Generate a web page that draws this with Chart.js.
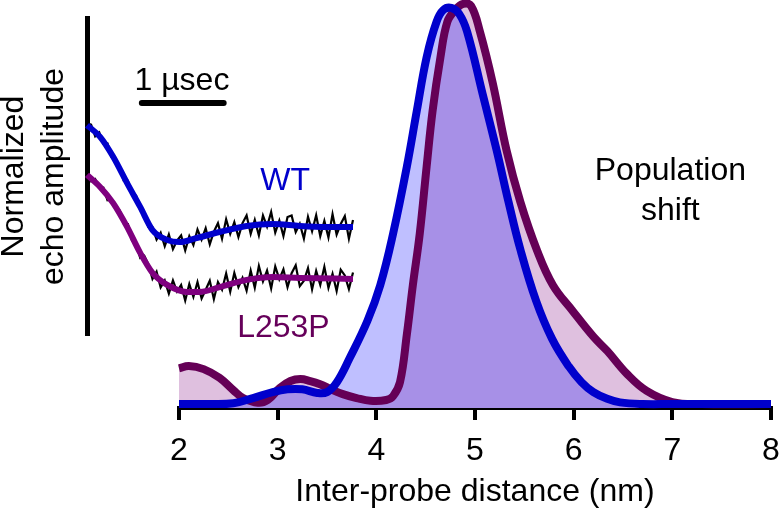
<!DOCTYPE html>
<html>
<head>
<meta charset="utf-8">
<script src="https://cdn.jsdelivr.net/npm/chart.js@4.4.1/dist/chart.umd.min.js"></script>
<style>
  html, body { margin: 0; padding: 0; background: #fff; }
  #wrap { position: relative; width: 780px; height: 509px; }
  #dist, #echo { position: absolute; left: 0; top: 0; }
</style>
</head>
<body>
<div id="wrap">
  <canvas id="dist" width="780" height="509"></canvas>
  <canvas id="echo" width="370" height="350"></canvas>
</div>
<script>
// distance distributions (nm, normalized probability)
const wtDistance = [2.0, 2.3, 2.55, 2.75, 2.95, 3.1, 3.25, 3.4, 3.5, 3.6, 3.73, 3.91, 4.04, 4.17, 4.31, 4.41, 4.51, 4.61, 4.68, 4.76, 4.84, 4.92, 5.08, 5.22, 5.34, 5.46, 5.62, 5.78, 5.95, 6.08, 6.2, 6.34, 6.47, 6.7, 7.0, 8.0];
const wtProb = [0, 0, 0.002, 0.015, 0.03, 0.037, 0.037, 0.028, 0.03, 0.055, 0.116, 0.21, 0.30, 0.43, 0.60, 0.74, 0.876, 0.965, 0.995, 1.0, 0.985, 0.94, 0.78, 0.64, 0.51, 0.39, 0.26, 0.165, 0.095, 0.055, 0.03, 0.013, 0.004, 0, 0, 0];

const l253pDistance = [2.0, 2.1, 2.25, 2.41, 2.55, 2.65, 2.8, 2.9, 3.02, 3.13, 3.23, 3.33, 3.43, 3.55, 3.66, 3.8, 3.94, 4.1, 4.17, 4.24, 4.31, 4.37, 4.44, 4.51, 4.57, 4.65, 4.72, 4.8, 4.88, 4.96, 5.05, 5.18, 5.32, 5.46, 5.63, 5.79, 5.99, 6.2, 6.34, 6.54, 6.74, 7.0, 7.3, 8.0];
const l253pProb = [0.09, 0.096, 0.088, 0.066, 0.035, 0.015, 0.003, 0.01, 0.04, 0.058, 0.063, 0.058, 0.05, 0.036, 0.025, 0.015, 0.008, 0.01, 0.02, 0.055, 0.177, 0.30, 0.43, 0.60, 0.74, 0.876, 0.965, 0.995, 1.01, 1.005, 0.94, 0.81, 0.64, 0.51, 0.387, 0.30, 0.235, 0.17, 0.134, 0.076, 0.033, 0.005, 0, 0];

const distTicks = [2, 3, 4, 5, 6, 7, 8];

// inset: echo traces (usec, normalized amplitude)
const echoTime = [0, 0.05, 0.1, 0.15, 0.2, 0.25, 0.3, 0.35, 0.4, 0.45, 0.5, 0.55, 0.6, 0.65, 0.7, 0.75, 0.8, 0.85, 0.9, 0.95, 1.0, 1.05, 1.1, 1.15, 1.2, 1.25, 1.3, 1.35, 1.4, 1.45, 1.5, 1.55, 1.6, 1.65, 1.7, 1.75, 1.8, 1.85, 1.9, 1.95, 2.0, 2.05, 2.1, 2.15, 2.2, 2.25, 2.3, 2.35, 2.4, 2.45, 2.5, 2.55, 2.6, 2.65, 2.7, 2.75, 2.8, 2.85, 2.9, 2.95, 3.0, 3.05, 3.1, 3.15, 3.2, 3.25];
const wtEcho = [0.668, 0.664, 0.627, 0.639, 0.603, 0.604, 0.561, 0.552, 0.528, 0.486, 0.486, 0.444, 0.440, 0.394, 0.382, 0.341, 0.340, 0.301, 0.323, 0.280, 0.317, 0.271, 0.298, 0.314, 0.267, 0.312, 0.284, 0.333, 0.301, 0.337, 0.286, 0.326, 0.353, 0.304, 0.365, 0.319, 0.356, 0.309, 0.353, 0.377, 0.319, 0.363, 0.314, 0.377, 0.342, 0.388, 0.323, 0.361, 0.312, 0.372, 0.377, 0.325, 0.351, 0.304, 0.373, 0.327, 0.378, 0.312, 0.360, 0.308, 0.381, 0.317, 0.350, 0.375, 0.304, 0.363];
const l253pEcho = [0.514, 0.485, 0.492, 0.464, 0.465, 0.425, 0.428, 0.401, 0.393, 0.351, 0.350, 0.298, 0.289, 0.243, 0.250, 0.223, 0.177, 0.200, 0.150, 0.172, 0.131, 0.172, 0.137, 0.158, 0.109, 0.161, 0.120, 0.167, 0.115, 0.143, 0.171, 0.113, 0.167, 0.143, 0.194, 0.137, 0.196, 0.151, 0.180, 0.140, 0.203, 0.149, 0.218, 0.169, 0.203, 0.147, 0.216, 0.176, 0.207, 0.151, 0.195, 0.220, 0.154, 0.171, 0.211, 0.144, 0.202, 0.158, 0.215, 0.149, 0.193, 0.139, 0.206, 0.188, 0.145, 0.197];

const wtFitTime = [0, 0.16, 0.32, 0.49, 0.65, 0.80, 0.98, 1.13, 1.34, 1.62, 1.95, 2.27, 2.60, 2.93, 3.25];
const wtFitAmp = [0.662, 0.625, 0.562, 0.479, 0.404, 0.331, 0.300, 0.293, 0.306, 0.325, 0.344, 0.350, 0.344, 0.341, 0.341];
const l253pFitTime = [0, 0.16, 0.32, 0.49, 0.65, 0.80, 0.98, 1.22, 1.38, 1.62, 1.95, 2.27, 2.60, 3.25];
const l253pFitAmp = [0.505, 0.467, 0.416, 0.341, 0.259, 0.196, 0.158, 0.136, 0.136, 0.151, 0.174, 0.183, 0.180, 0.177];

// 1 usec scale bar
const scaleBarTime = [0.67, 1.67];
const scaleBarAmp = [0.732, 0.732];

const FONT = "'Liberation Sans', Arial, Helvetica, sans-serif";
Chart.defaults.font.family = FONT;

function pts(xs, ys) {
  return xs.map((x, i) => ({ x: x, y: ys[i] }));
}

// free text placed in data coordinates
const textLabels = {
  id: 'textLabels',
  afterDatasetsDraw(chart, args, opts) {
    const ctx = chart.ctx;
    const xs = chart.scales.x, ys = chart.scales.y;
    ctx.save();
    ctx.font = '32px ' + FONT;
    ctx.textAlign = 'center';
    ctx.textBaseline = 'alphabetic';
    (opts.items || []).forEach(it => {
      ctx.fillStyle = it.color;
      ctx.fillText(it.text, xs.getPixelForValue(it.x), ys.getPixelForValue(it.y));
    });
    ctx.restore();
  }
};

const distLine = {
  fill: 'start',
  borderWidth: 8,
  pointRadius: 0,
  tension: 0.4,
  clip: false
};

new Chart(document.getElementById('dist'), {
  type: 'line',
  data: {
    datasets: [
      Object.assign({ label: 'WT', data: pts(wtDistance, wtProb),
        borderColor: '#0000cc', backgroundColor: 'rgba(0,0,255,0.25)' }, distLine),
      Object.assign({ label: 'L253P', data: pts(l253pDistance, l253pProb),
        borderColor: '#650056', backgroundColor: '#dfc0df' }, distLine)
    ]
  },
  options: {
    responsive: false,
    animation: false,
    layout: { padding: { left: 179, right: 9, top: 0, bottom: 0 } },
    plugins: {
      legend: { display: false },
      tooltip: { enabled: false },
      filler: { drawTime: 'beforeDatasetsDraw' },
      textLabels: {
        items: [
          { text: 'Population', x: 6.98, y: 0.566, color: '#000' },
          { text: 'shift', x: 6.98, y: 0.465, color: '#000' }
        ]
      }
    },
    scales: {
      x: {
        type: 'linear',
        min: 2,
        max: 8,
        afterFit: s => { s.height = 101; s.paddingLeft = 0; s.paddingRight = 0; },
        afterBuildTicks: s => { s.ticks = distTicks.map(v => ({ value: v })); },
        ticks: { color: '#000', font: { size: 32 }, padding: 12, maxRotation: 0 },
        grid: { drawOnChartArea: false, color: '#000', lineWidth: 4, tickLength: 12 },
        border: { display: true, color: '#000', width: 4 },
        title: {
          display: true,
          text: 'Inter-probe distance (nm)',
          color: '#000',
          font: { size: 32 },
          padding: { top: 0, bottom: -2 }
        }
      },
      y: { display: false, min: -0.0101, max: 1.02 }
    }
  },
  plugins: [textLabels]
});

const thin = { pointRadius: 0, tension: 0, clip: false };

new Chart(document.getElementById('echo'), {
  type: 'line',
  data: {
    datasets: [
      { data: pts(wtFitTime, wtFitAmp), borderColor: '#0000cc', borderWidth: 6,
        pointRadius: 0, cubicInterpolationMode: 'monotone', clip: false },
      { data: pts(l253pFitTime, l253pFitAmp), borderColor: '#7f007f', borderWidth: 6,
        pointRadius: 0, cubicInterpolationMode: 'monotone', clip: false },
      Object.assign({ data: pts(echoTime, wtEcho), borderColor: '#000', borderWidth: 2.2 }, thin),
      Object.assign({ data: pts(echoTime, l253pEcho), borderColor: '#000', borderWidth: 2.2 }, thin),
      Object.assign({ data: pts(scaleBarTime, scaleBarAmp), borderColor: '#000', borderWidth: 6,
        borderCapStyle: 'round' }, thin)
    ]
  },
  options: {
    responsive: false,
    animation: false,
    layout: { padding: { left: 0, right: 17, top: 18, bottom: 15 } },
    plugins: {
      legend: { display: false },
      tooltip: { enabled: false },
      textLabels: {
        items: [
          { text: 'WT', x: 2.42, y: 0.457, color: '#0000cc' },
          { text: 'L253P', x: 2.40, y: -0.006, color: '#66005a' },
          { text: '1 \u00b5sec', x: 1.16, y: 0.773, color: '#000' }
        ]
      }
    },
    scales: {
      x: { type: 'linear', display: false, min: 0, max: 3.25 },
      y: {
        min: 0,
        max: 1,
        afterFit: s => { s.width = 87; },
        ticks: { display: false },
        grid: { display: false },
        border: { display: true, color: '#000', width: 5 },
        title: {
          display: true,
          text: ['Normalized', 'echo amplitude'],
          color: '#000',
          font: { size: 32, lineHeight: 1.25 },
          padding: { top: -6, bottom: 0 }
        }
      }
    }
  },
  plugins: [textLabels]
});
</script>
</body>
</html>
